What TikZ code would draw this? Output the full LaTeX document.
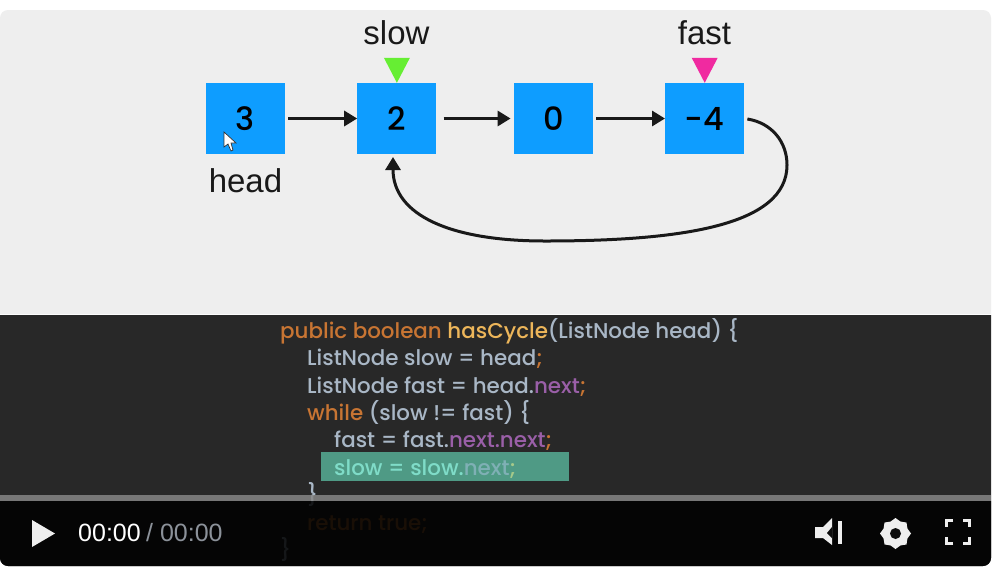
\documentclass[tikz,border=0pt]{standalone}
\usepackage{fontspec}
\setmainfont{Liberation Sans}
\newfontfamily\codefont{Poppins Medium}
\usepackage{xcolor}
\usetikzlibrary{positioning, arrows.meta, shapes.geometric, calc}
\definecolor{panelgray}{HTML}{EEEEEE}
\definecolor{paneldark}{HTML}{282828}
\definecolor{boxblue}{HTML}{0E9DFF}
\definecolor{slowgreen}{HTML}{66EE33}
\definecolor{fastpink}{HTML}{F02AA0}
\definecolor{kwdorange}{HTML}{C87533}
\definecolor{fnyellow}{HTML}{EDB65A}
\definecolor{codegray}{HTML}{A9B7C6}
\definecolor{fieldpurple}{HTML}{9A5FA8}
\definecolor{hlgreen}{HTML}{4F9A85}
\definecolor{hltext}{HTML}{7FDCC8}
\definecolor{hlnext}{HTML}{7FB0B5}
\definecolor{hlsemi}{HTML}{A5C98A}
\definecolor{iconwhite}{HTML}{EEEEEE}
\definecolor{timegray}{HTML}{8C929A}
\tikzset{
    listbox/.style={
        rectangle, fill=boxblue, minimum width=79pt, minimum height=71pt,
        inner sep=0pt, font=\codefont\fontsize{32}{32}\selectfont, text=black
    },
    ptrlabel/.style={font=\fontsize{33}{33}\selectfont, text=black!90, inner sep=0pt},
    arrow/.style={-{Triangle[length=13pt, width=15pt]}, line width=3pt, draw=black!90, shorten <=3pt},
    codeline/.style={anchor=base west, inner sep=0pt, text=codegray,
        font=\codefont\fontsize{21.4}{21.4}\selectfont},
    timetext/.style={anchor=base west, inner sep=0pt, font=\fontsize{25}{25}\selectfont}
}
\begin{document}
\begin{tikzpicture}[x=1pt, y=-1pt]
    \useasboundingbox (0,0) rectangle (992,566);
    \fill[white] (0,0) rectangle (992,566);

    % --- PANELS ---
    \fill[panelgray] (0,314) {[rounded corners=8pt] -- (0,10) -- (991,10)} -- (991,314) -- cycle;
    \fill[paneldark] (0,315) {[rounded corners=8pt] -- (0,566) -- (991,566)} -- (991,315) -- cycle;

    % --- LIST ---
    \node[listbox] (n3) at (245.5,118.5) {3};
    \node[listbox, right=72pt of n3] (n2) {2};
    \node[listbox, right=77pt of n2] (n0) {0};
    \node[listbox, right=72pt of n0] (n4) {-4};

    \draw[arrow] (n3) -- (n2);
    \draw[arrow, shorten <=7pt, shorten >=3pt] (n2) -- (n0);
    \draw[arrow] (n0) -- (n4);
    \draw[arrow] (n4.east) .. controls (772,123) and (787,142) .. (787,165)
        .. controls (787,226) and (680,241) .. (545,241)
        .. controls (450,241) and (393,215) .. (393,157);

    % --- POINTERS ---
    \fill[slowgreen] (n2.north) -- ++(-13,-25) -- ++(26,0) -- cycle;
    \fill[fastpink] (n4.north) -- ++(-13,-25) -- ++(26,0) -- cycle;
    \node[ptrlabel, anchor=base] (slow) at (396.5,44) {slow};
    \node[ptrlabel, anchor=base] (fast) at (704.5,44) {fast};
    \node[ptrlabel, anchor=base] (head) at (245.5,192) {head};

    % --- CURSOR ---
    \filldraw[fill=white, draw=black!80, line width=0.7pt] (224,132) -- (224,147) -- (228,144)
        -- (231,151) -- (233,150) -- (231,143) -- (236,143) -- cycle;

    % --- CODE ---
    \fill[hlgreen] (321,452) rectangle (569,481);
    \node[codeline] (line1) at (280,338) {\textcolor{kwdorange}{public boolean} \textcolor{fnyellow}{hasCycle}(ListNode head) \{};
    \node[codeline] (line2) at (307,365.5) {ListNode slow = head\textcolor{kwdorange}{;}};
    \node[codeline] (line3) at (307,393) {ListNode fast = head.\textcolor{fieldpurple}{next}\textcolor{kwdorange}{;}};
    \node[codeline] (line4) at (307,420.5) {\textcolor{kwdorange}{while} (slow != fast) \{};
    \node[codeline] (line5) at (334,447.5) {fast = fast.\textcolor{fieldpurple}{next.next}\textcolor{kwdorange}{;}};
    \node[codeline, text=hltext] (line6) at (334,475) {slow = slow.\textcolor{hlnext}{next}\textcolor{hlsemi}{;}};
    \node[codeline] (line7) at (307,502) {\}};
    \node[codeline, text=kwdorange] (line8) at (307,530) {return true;};
    \node[codeline] (line9) at (280,557) {\}};

    % --- PLAYER BAR ---
    \fill[black, opacity=0.87] (0,501) {[rounded corners=8pt] -- (0,566) -- (991,566)} -- (991,501) -- cycle;
    \fill[gray!95!white, opacity=0.85] (0,495) rectangle (991,501);

    \fill[iconwhite] (32,520) -- (55,533.5) -- (32,547) -- cycle;
    \node[timetext, text=white] (elapsed) at (78,541) {00:00};
    \node[timetext, text=timegray, right=5pt of elapsed.base east, anchor=base west] (total) {/ 00:00};

    % volume
    \fill[iconwhite] (815,527) -- (823,527) -- (832,518) -- (832,545) -- (823,538) -- (815,538) -- cycle;
    \fill[black!95] (832,527) -- (827,533) -- (832,538) -- cycle;
    \fill[iconwhite] (838,521) rectangle (842,544);

    % settings
    \node[star, star points=8, star point ratio=1.2, fill=iconwhite, minimum size=31pt, inner sep=0pt] (gear) at (895.5,533.5) {};
    \fill[black!95] (gear.center) circle (5.5);

    % fullscreen
    \foreach \cx/\cy/\dx/\dy in {945/519/1/1, 971/519/-1/1, 945/545/1/-1, 971/545/-1/-1}
        \draw[iconwhite, line width=3pt] (\cx+8*\dx,\cy+1.5*\dy) -- (\cx+1.5*\dx,\cy+1.5*\dy) -- (\cx+1.5*\dx,\cy+8*\dy);

\end{tikzpicture}
\end{document}
